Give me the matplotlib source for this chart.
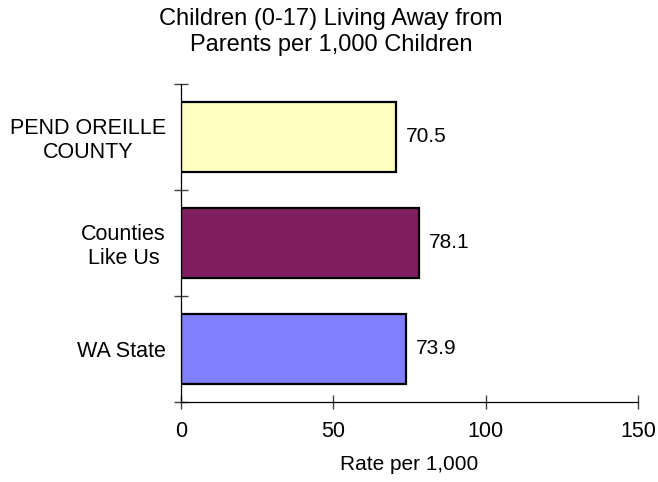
import matplotlib
matplotlib.use("Agg")
import matplotlib.pyplot as plt
from matplotlib.ticker import FixedLocator

plt.rcParams["font.family"] = ["Liberation Sans", "DejaVu Sans"]

categories = ["PEND OREILLE\nCOUNTY", "Counties\nLike Us", "WA State"]
values = [70.5, 78.1, 73.9]
colors = ["#FFFFC0", "#801F5F", "#8080FF"]
x_ticks = [0, 50, 100, 150]

fig = plt.figure(figsize=(6.58, 4.82), dpi=100)
ax = fig.add_axes([181 / 658, 1 - 402 / 482, 457 / 658, 318 / 482])

pos = list(range(len(categories)))
ax.barh(pos, values, height=0.66, color=colors, edgecolor="black", linewidth=1.6)
for p, v in zip(pos, values):
    ax.annotate(f"{v:.1f}", (v, p), xytext=(7, 0), textcoords="offset points",
                ha="left", va="center", fontsize=15)

ax.set_xlim(0, 150)
ax.set_ylim(2.5, -0.5)
ax.set_xticks(x_ticks)
ax.set_yticks(pos)
ax.set_yticklabels(categories, ha="right", multialignment="center", linespacing=1.15)
ax.yaxis.set_minor_locator(FixedLocator([-0.5, 0.5, 1.5, 2.5]))
ax.tick_params(axis="y", which="major", length=0, pad=11, labelsize=15.5)
ax.tick_params(axis="y", which="minor", length=10, direction="inout", width=1, color="#404040")
ax.tick_params(axis="x", length=10, direction="inout", width=1, color="#404040",
               labelsize=15.5, pad=9)
for s in ["top", "right"]:
    ax.spines[s].set_visible(False)
ax.spines["left"].set_linewidth(0.9)
ax.spines["bottom"].set_linewidth(0.9)

ax.set_xlabel("Rate per 1,000", fontsize=15, labelpad=9)
fig.text(331 / 658, 1 - 32 / 482, "Children (0-17) Living Away from\nParents per 1,000 Children",
         ha="center", va="center", fontsize=17, linespacing=1.2)

fig.savefig("out.png", dpi=100)
